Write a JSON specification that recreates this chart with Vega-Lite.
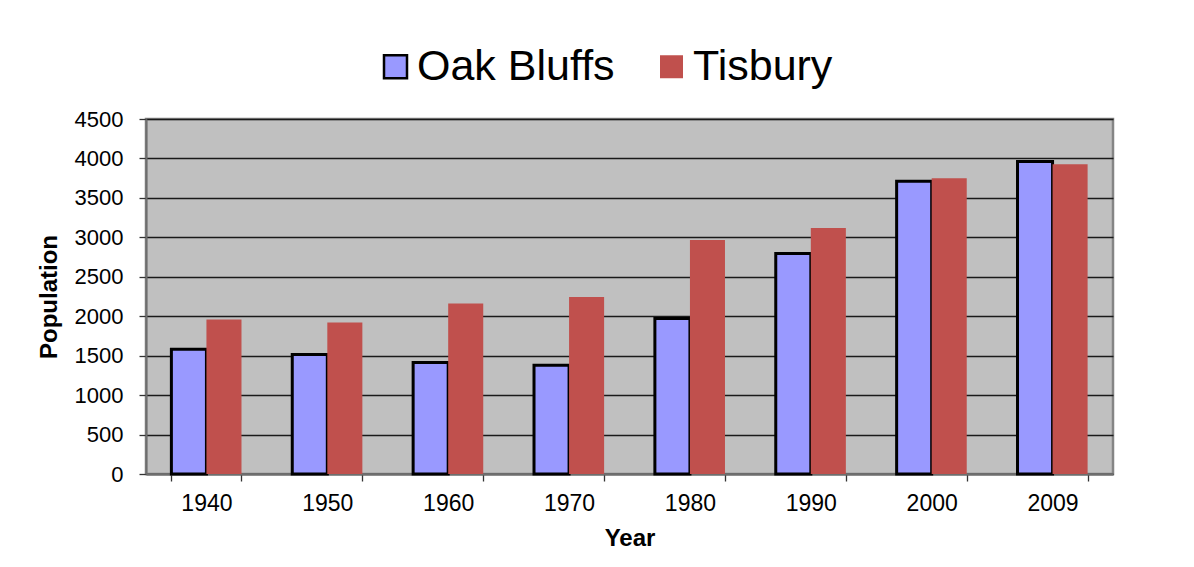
{
  "$schema": "https://vega.github.io/schema/vega-lite/v6.json",
  "width": 967,
  "height": 355,
  "autosize": {"type": "none"},
  "padding": {"left": 146, "top": 119, "right": 81, "bottom": 93},
  "background": "white",
  "data": {
    "values": [
      {"year": "1940", "town": "Oak Bluffs", "population": 1580},
      {"year": "1940", "town": "Tisbury", "population": 1960},
      {"year": "1950", "town": "Oak Bluffs", "population": 1515},
      {"year": "1950", "town": "Tisbury", "population": 1920},
      {"year": "1960", "town": "Oak Bluffs", "population": 1413},
      {"year": "1960", "town": "Tisbury", "population": 2160},
      {"year": "1970", "town": "Oak Bluffs", "population": 1380},
      {"year": "1970", "town": "Tisbury", "population": 2245},
      {"year": "1980", "town": "Oak Bluffs", "population": 1970},
      {"year": "1980", "town": "Tisbury", "population": 2965},
      {"year": "1990", "town": "Oak Bluffs", "population": 2796},
      {"year": "1990", "town": "Tisbury", "population": 3118},
      {"year": "2000", "town": "Oak Bluffs", "population": 3710},
      {"year": "2000", "town": "Tisbury", "population": 3748},
      {"year": "2009", "town": "Oak Bluffs", "population": 3960},
      {"year": "2009", "town": "Tisbury", "population": 3925}
    ]
  },
  "mark": {"type": "bar", "strokeWidth": 3, "opacity": 1},
  "encoding": {
    "x": {
      "field": "year",
      "type": "nominal",
      "sort": null,
      "scale": {"paddingInner": 0.42, "paddingOuter": 0.21},
      "axis": {
        "title": "Year",
        "labelAngle": 0,
        "tickBand": "extent",
        "tickSize": 7,
        "labelPadding": 11,
        "titlePadding": 11,
        "labelFontSize": 23,
        "titleFontSize": 24,
        "titleFontWeight": "bold",
        "grid": false
      }
    },
    "xOffset": {
      "field": "town",
      "type": "nominal",
      "sort": ["Oak Bluffs", "Tisbury"],
      "scale": {"paddingInner": 0, "paddingOuter": 0}
    },
    "y": {
      "field": "population",
      "type": "quantitative",
      "scale": {"domain": [0, 4500], "nice": false},
      "axis": {
        "title": "Population",
        "format": "d",
        "values": [0, 500, 1000, 1500, 2000, 2500, 3000, 3500, 4000, 4500],
        "tickSize": 7,
        "labelPadding": 16,
        "titlePadding": 13,
        "labelFontSize": 22,
        "titleFontSize": 24,
        "titleFontWeight": "bold",
        "grid": true,
        "gridColor": "#1a1a1a",
        "gridWidth": 1.3
      }
    },
    "color": {
      "field": "town",
      "type": "nominal",
      "title": null,
      "scale": {"domain": ["Oak Bluffs", "Tisbury"], "range": ["#9999ff", "#c0504d"]},
      "legend": {
        "orient": "none",
        "direction": "horizontal",
        "legendX": 228,
        "legendY": -74,
        "symbolType": "square",
        "symbolSize": 529,
        "symbolStrokeWidth": 2.5,
        "symbolOpacity": 1,
        "labelFontSize": 43,
        "labelOffset": 0,
        "columnPadding": 35,
        "labelColor": "black",
        "labelLimit": 400
      }
    },
    "stroke": {
      "field": "town",
      "type": "nominal",
      "title": null,
      "scale": {"domain": ["Oak Bluffs", "Tisbury"], "range": ["black", "transparent"]}
    }
  },
  "config": {
    "font": "Liberation Sans",
    "view": {"fill": "#c0c0c0", "stroke": "#858585", "strokeWidth": 2.5},
    "axis": {
      "domainColor": "#6e6e6e",
      "domainWidth": 2,
      "tickColor": "#333333",
      "tickWidth": 1.3,
      "labelColor": "black",
      "titleColor": "black",
      "labelFont": "Liberation Sans",
      "titleFont": "Liberation Sans"
    },
    "legend": {"labelFont": "Liberation Sans"}
  }
}
